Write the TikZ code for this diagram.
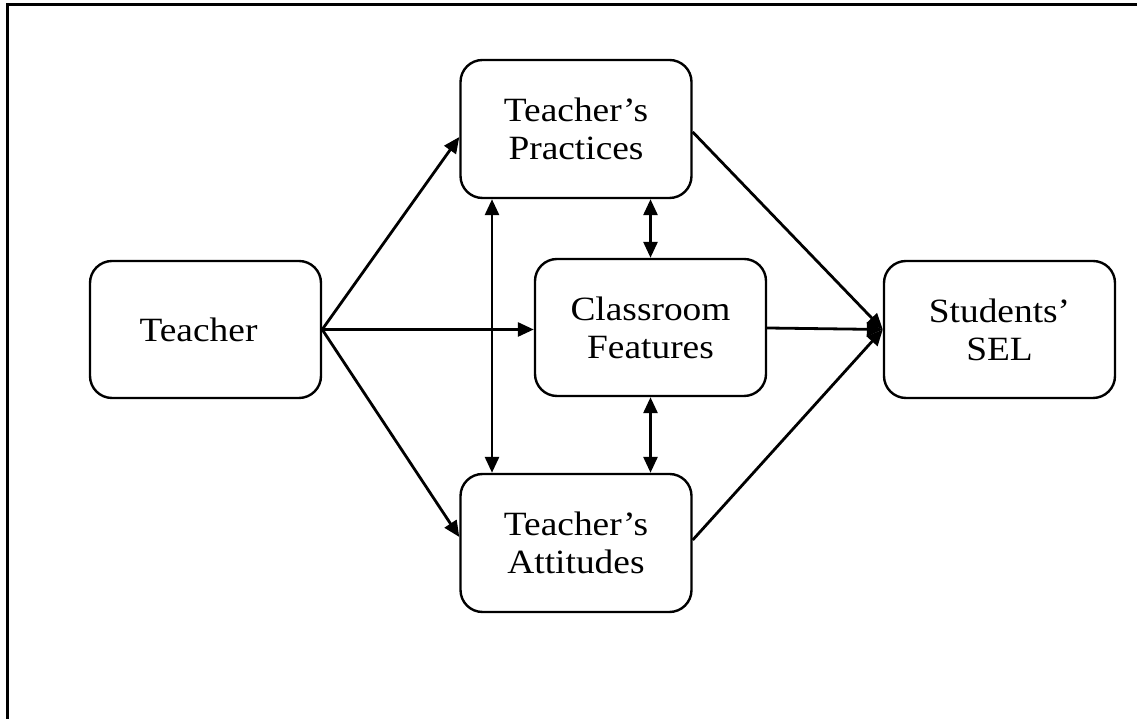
\documentclass[tikz,border=0pt]{standalone}
\usepackage{fontspec}
\setmainfont{Liberation Serif}[FakeStretch=1.1]
\usetikzlibrary{arrows.meta}
\begin{document}
\begin{tikzpicture}[x=1pt,y=1pt,
  tip/.tip={Triangle[length=16pt,width=14pt]},
  box/.style={draw,line width=2.4pt,rounded corners=22pt,
    minimum width=231pt,minimum height=137pt,align=center,
    font=\fontsize{34}{38}\selectfont},
  link/.style={line width=2.8pt,-tip},
  twoway/.style={line width=2.8pt,tip-tip}]
  \useasboundingbox (0,0) rectangle (1137,719);
  % open frame: top and left edges only
  \draw[line width=3pt] (1137,714) -- (7,714) -- (7,0);

  \node[box] (teacher) at (205.5,389.5) {Teacher\hspace*{14pt}};
  \node[box,minimum height=138pt] (prac) at (576,590) {Teacher’s\\Practices};
  \node[box] (class) at (650.5,391.5) {Classroom\\Features};
  \node[box] (sel) at (999.5,389.5) {Students’\\SEL};
  \node[box,minimum height=138pt] (att) at (576,176) {Teacher’s\\Attitudes};

  % teacher to the three mediators
  \draw[link] (teacher.east) -- ([yshift=-8pt]prac.west);
  \draw[link] (teacher.east) -- (class.west |- teacher.east);
  \draw[link] (teacher.east) -- ([yshift=6pt]att.west);

  % links among the mediators
  \draw[twoway] ([xshift=-84pt]prac.south) -- ([xshift=-84pt]att.north);
  \draw[twoway] (class.north |- prac.south) -- (class.north);
  \draw[twoway] (class.south) -- (class.south |- att.north);

  % mediators to outcome
  \draw[link] ([yshift=-3pt]prac.east) -- (sel.west);
  \draw[link] ([yshift=-0.5pt]class.east) -- (sel.west);
  \draw[link] ([yshift=3pt]att.east) -- (sel.west);
\end{tikzpicture}
\end{document}
